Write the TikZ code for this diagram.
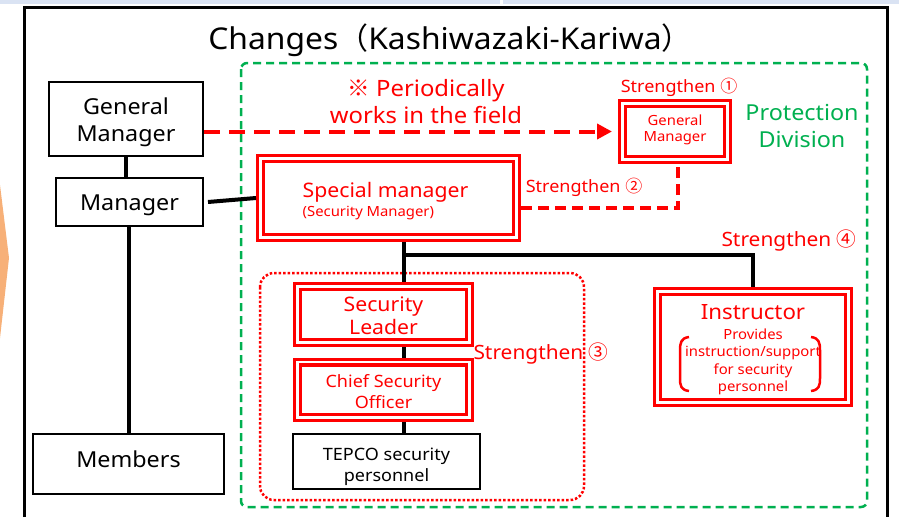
\documentclass[tikz,border=0pt]{standalone}
\usepackage{fontspec}
\setmainfont{Noto Sans}[FakeStretch=1.06]
\newfontfamily\cjk{Noto Sans CJK JP}
\usetikzlibrary{arrows.meta,calc}
\definecolor{gr}{RGB}{0,176,80}
\definecolor{rd}{RGB}{255,0,0}
\definecolor{topband}{RGB}{218,227,243}
\definecolor{orng}{RGB}{247,176,120}
\begin{document}
\begin{tikzpicture}[x=1pt,y=-1pt,
  bbox/.style={draw=black, line width=2pt, inner sep=0pt},
  dbox/.style={draw=rd, double=white, line width=3.2pt, double distance=2.6pt, inner sep=0pt, outer sep=4.5pt},
  btext/.style={inner sep=0pt, align=center},
  rtext/.style={inner sep=0pt, align=center, text=rd},
  conn/.style={draw=black, line width=4pt},
  rlabel/.style={text=rd, inner sep=0pt}]
\useasboundingbox (0,0) rectangle (899,517);
\fill[white] (0,0) rectangle (899,517);
\fill[topband] (0,0) rectangle (899,4);
\fill[white] (500,0) rectangle (503,4);
\fill[orng] (0,185) -- (9,258) -- (0,338) -- cycle;
\draw[line width=3pt] (24,517) -- (24,7) -- (887,7) -- (887,517);
% green division frame
\draw[gr, line width=2.5pt, dash pattern=on 8pt off 5pt, rounded corners=6pt] (241,63) rectangle (867,507);
% red dotted group
\draw[rd, line width=2.5pt, dash pattern=on 2.5pt off 2pt, rounded corners=14pt] (260,273) rectangle (584,500);
% title
\node[font=\fontsize{30}{34}\selectfont, inner sep=0pt] (title) at (450,40) {Changes{\cjk （}Kashiwazaki-Kariwa{\cjk ）}};
% left boxes
\node[bbox, minimum width=154pt, minimum height=74pt] (gm) at (126,119) {};
\node[btext, font=\fontsize{22}{27}\selectfont] (gmT) at ($(gm)+(0,3)$) {General\\Manager};
\node[bbox, minimum width=147pt, minimum height=48pt] (mgr) at (129.5,202) {};
\node[btext, font=\fontsize{22}{27}\selectfont] (mgrT) at ($(mgr)+(0,3)$) {Manager};
\node[bbox, minimum width=191pt, minimum height=60pt] (mem) at (128.5,464) {};
\node[btext, font=\fontsize{22}{27}\selectfont] (memT) at ($(mem)+(0,-5)$) {Members};
% double boxes
\node[dbox, minimum width=256pt, minimum height=79pt] (sm) at (388.5,198) {};
\node[rtext, align=left, font=\fontsize{14}{16}\selectfont] (smT) at ($(sm)+(-3,3)$) {{\fontsize{20}{24}\selectfont Special manager}\\[3pt](Security Manager)};
\node[dbox, minimum width=105pt, minimum height=56pt] (sgm) at (675,131.5) {};
\node[rtext, font=\fontsize{14}{16}\selectfont] (sgmT) at ($(sgm)+(0,-2)$) {General\\Manager};
\node[dbox, minimum width=172pt, minimum height=56pt] (sl) at (383.5,314.5) {};
\node[rtext, font=\fontsize{20}{23}\selectfont] (slT) at ($(sl)+(0,1)$) {Security\\Leader};
\node[dbox, minimum width=172pt, minimum height=55.5pt] (cso) at (383.5,389.75) {};
\node[rtext, font=\fontsize{17}{21}\selectfont] (csoT) at ($(cso)+(0,1.5)$) {Chief Security\\Officer};
\node[dbox, minimum width=191pt, minimum height=111pt] (instr) at (753,347) {};
\node[rtext, font=\fontsize{14}{17.5}\selectfont] (instrT) at ($(instr)+(0,3)$) {{\fontsize{21}{25}\selectfont Instructor}\\[2pt]Provides\\instruction/support\\for security\\personnel};
\node[bbox, minimum width=187pt, minimum height=55pt] (tepco) at (386.5,461.5) {};
\node[btext, font=\fontsize{17}{21}\selectfont] (tepcoT) at ($(tepco)+(0,5)$) {TEPCO security\\personnel};
% brackets
\draw[rd, line width=2.5pt] (689,337) .. controls (681,338) and (680,343) .. (680,350) -- (680,378) .. controls (680,386) and (681,390) .. (689,391);
\draw[rd, line width=2.5pt] (811,337) .. controls (819,338) and (820,343) .. (820,350) -- (820,378) .. controls (820,386) and (819,390) .. (811,391);
% connectors
\draw[conn] (gm.south) -- (gm.south |- mgr.north);
\draw[conn] (mem.north) -- (mem.north |- mgr.south);
\draw[conn] ([xshift=4pt]mgr.east) -- (sm.west);
\coordinate (hub) at (404,255);
\draw[conn] (sm.south -| hub) -- (hub) -| (instr.north);
\draw[conn] (hub) -- (sl.north -| hub);
\draw[conn] (sl.south -| hub) -- (cso.north -| hub);
\draw[conn] (cso.south -| hub) -- (tepco.north -| hub);
% red dashed links
\draw[rd, line width=4pt, dash pattern=on 16pt off 9pt, -{Triangle[length=15pt,width=15pt]}, shorten >=6pt] (gm.east |- sgm.west) -- (sgm.west);
\coordinate (c2) at ($(sgm.south)+(3,0)$);
\draw[rd, line width=3.5pt, dash pattern=on 11pt off 6pt] ([yshift=-10pt]sm.east) -- ([yshift=-10pt]sm.east -| c2) -- (c2);
% labels
\node[rlabel, font=\fontsize{22.5}{27}\selectfont, align=center] (period) at (426,102) {{\cjk ※} Periodically\\works in the field};
\node[text=gr, inner sep=0pt, font=\fontsize{22}{27}\selectfont, align=center] (prot) at (802,126) {Protection\\Division};
\node[rlabel, font=\fontsize{17}{19}\selectfont] (s1) at (679,87) {Strengthen {\cjk ①}};
\node[rlabel, font=\fontsize{17}{19}\selectfont] (s2) at (584,187) {Strengthen {\cjk ②}};
\node[rlabel, font=\fontsize{19.7}{22}\selectfont] (s3) at (541,354) {Strengthen {\cjk ③}};
\node[rlabel, font=\fontsize{19.7}{22}\selectfont] (s4) at (789,241) {Strengthen {\cjk ④}};
\end{tikzpicture}
\end{document}
